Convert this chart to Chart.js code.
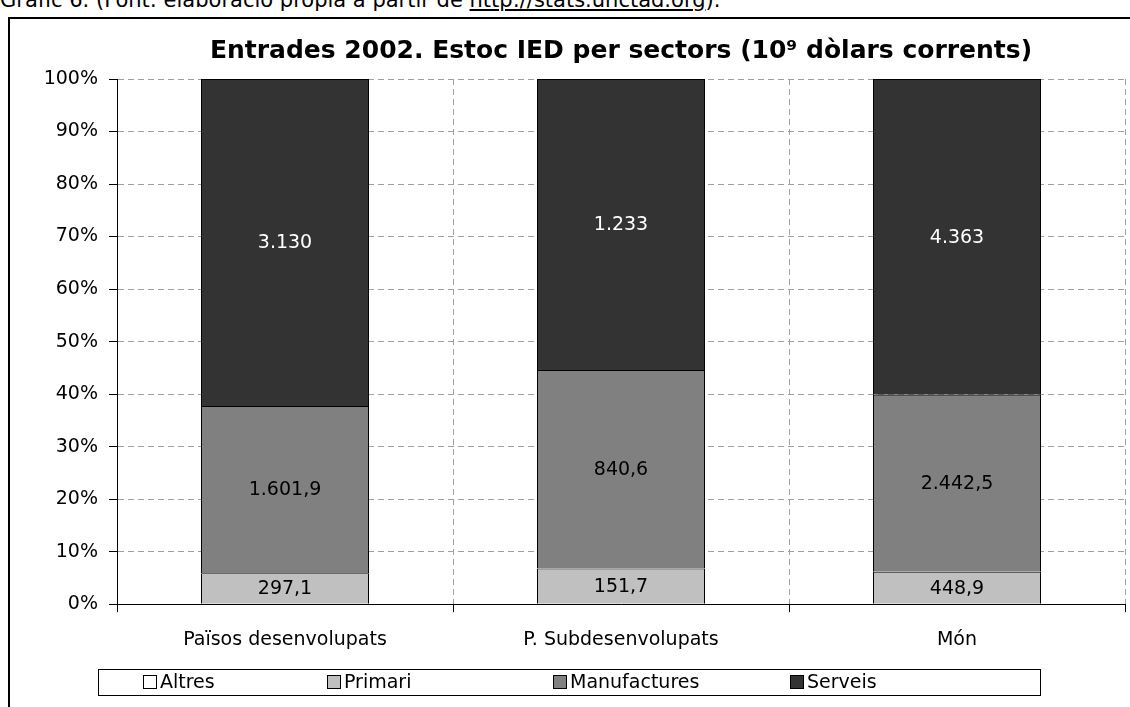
<!DOCTYPE html>
<html>
<head>
<meta charset="utf-8">
<script src="https://cdn.jsdelivr.net/npm/chart.js@4"></script>
<style>
  body { margin: 0; background: #fff; overflow: hidden; width: 1130px; height: 707px; position: relative; font-family: "DejaVu Sans", sans-serif; }
  #caption { position: absolute; left: 0; top: -12px; font-size: 21px; line-height: 25px; white-space: nowrap; color: #000; }
  #frame { position: absolute; left: 8px; top: 17px; width: 1200px; height: 800px; border: 2px solid #000; box-sizing: border-box; }
  #wrap { position: absolute; left: 10px; top: 19px; width: 1120px; height: 688px; }
</style>
</head>
<body>
<div id="caption">Gràfic 6. (Font: elaboració pròpia a partir de <u>http://stats.unctad.org</u>).</div>
<div id="frame"></div>
<div id="wrap"><canvas id="chart"></canvas></div>
<script>
const categories = ['Països desenvolupats', 'P. Subdesenvolupats', 'Món'];
const altres = [0, 0, 0];
const primari = [297.1, 151.7, 448.9];
const manufactures = [1601.9, 840.6, 2442.5];
const serveis = [3130, 1233, 4363];
const yTicks = [0, 10, 20, 30, 40, 50, 60, 70, 80, 90, 100];

const series = [
  { label: 'Altres', values: altres, color: '#ffffff', text: '#000' },
  { label: 'Primari', values: primari, color: '#c0c0c0', text: '#000' },
  { label: 'Manufactures', values: manufactures, color: '#808080', text: '#000' },
  { label: 'Serveis', values: serveis, color: '#333333', text: '#fff' },
];

const FONT = 'DejaVu Sans';

// totals per category, to get the 100% stacking
const totals = categories.map((c, i) => series.reduce((s, d) => s + d.values[i], 0));

// catalan number format: 1.601,9
function fmt(v) {
  const parts = String(v).split('.');
  const intPart = parts[0].replace(/\B(?=(\d{3})+(?!\d))/g, '.');
  return parts.length > 1 ? intPart + ',' + parts[1] : intPart;
}

const valueLabels = {
  id: 'valueLabels',
  afterDatasetsDraw(chart) {
    const ctx = chart.ctx;
    ctx.save();
    ctx.font = '19px "' + FONT + '"';
    ctx.textAlign = 'center';
    ctx.textBaseline = 'middle';
    chart.data.datasets.forEach((ds, di) => {
      const meta = chart.getDatasetMeta(di);
      meta.data.forEach((bar, i) => {
        const raw = series[di].values[i];
        if (!raw) return;
        ctx.fillStyle = series[di].text;
        ctx.fillText(fmt(raw), bar.x, (bar.y + bar.base) / 2 + 1);
      });
    });
    ctx.restore();
  }
};

// excel style legend: framed row under the axis
const boxedLegend = {
  id: 'boxedLegend',
  afterDraw(chart) {
    const items = Chart.defaults.plugins.legend.labels.generateLabels(chart);
    const ctx = chart.ctx;
    const frame = { x: 88, y: 650, w: 942, h: 26 };
    const itemX = [133, 317, 543, 780];
    const cy = frame.y + frame.h / 2;
    ctx.save();
    ctx.strokeStyle = '#000';
    ctx.lineWidth = 1;
    ctx.strokeRect(frame.x + 0.5, frame.y + 0.5, frame.w, frame.h);
    ctx.font = '19px "' + FONT + '"';
    ctx.textBaseline = 'middle';
    ctx.textAlign = 'left';
    items.forEach((it, i) => {
      const x = itemX[i];
      ctx.fillStyle = it.fillStyle;
      ctx.fillRect(x, cy - 7, 14, 14);
      ctx.strokeStyle = '#000';
      ctx.strokeRect(x + 0.5, cy - 6.5, 13, 13);
      ctx.fillStyle = '#000';
      ctx.fillText(it.text, x + 17, cy + 1);
    });
    ctx.restore();
  }
};

new Chart(document.getElementById('chart'), {
  type: 'bar',
  data: {
    labels: categories,
    datasets: series.map(s => ({
      label: s.label,
      data: s.values.map((v, i) => v / totals[i] * 100),
      backgroundColor: s.color,
      borderColor: '#000',
      borderWidth: 1,
      barPercentage: 0.5,
      categoryPercentage: 1,
    })),
  },
  options: {
    responsive: true,
    maintainAspectRatio: false,
    animation: false,
    layout: { padding: { left: 0, right: 5, top: 0, bottom: 40 } },
    plugins: {
      title: {
        display: true,
        fullSize: false,
        text: 'Entrades 2002. Estoc IED per sectors (10⁹ dòlars corrents)',
        color: '#000',
        font: { family: FONT, size: 25, weight: 'bold' },
        padding: { top: 17, bottom: 13 },
      },
      legend: { display: false },
      tooltip: { enabled: false },
    },
    scales: {
      x: {
        stacked: true,
        grid: {
          offset: true,
          color: '#a0a0a0',
          tickColor: '#000',
          tickLength: 8,
          tickBorderDash: [],
        },
        border: { color: '#000', width: 1, dash: [6, 4] },
        ticks: { color: '#000', font: { family: FONT, size: 19 }, padding: 16 },
      },
      y: {
        stacked: true,
        min: 0,
        max: 100,
        afterBuildTicks: axis => { axis.ticks = yTicks.map(v => ({ value: v })); },
        afterFit: axis => { axis.width = 107; },
        grid: {
          color: '#a0a0a0',
          tickColor: '#000',
          tickLength: 8,
          tickBorderDash: [],
        },
        border: { color: '#000', width: 1, dash: [6, 4] },
        ticks: { color: '#000', font: { family: FONT, size: 19 }, padding: 11, callback: v => v + '%' },
      },
    },
  },
  plugins: [valueLabels, boxedLegend],
});
</script>
</body>
</html>
